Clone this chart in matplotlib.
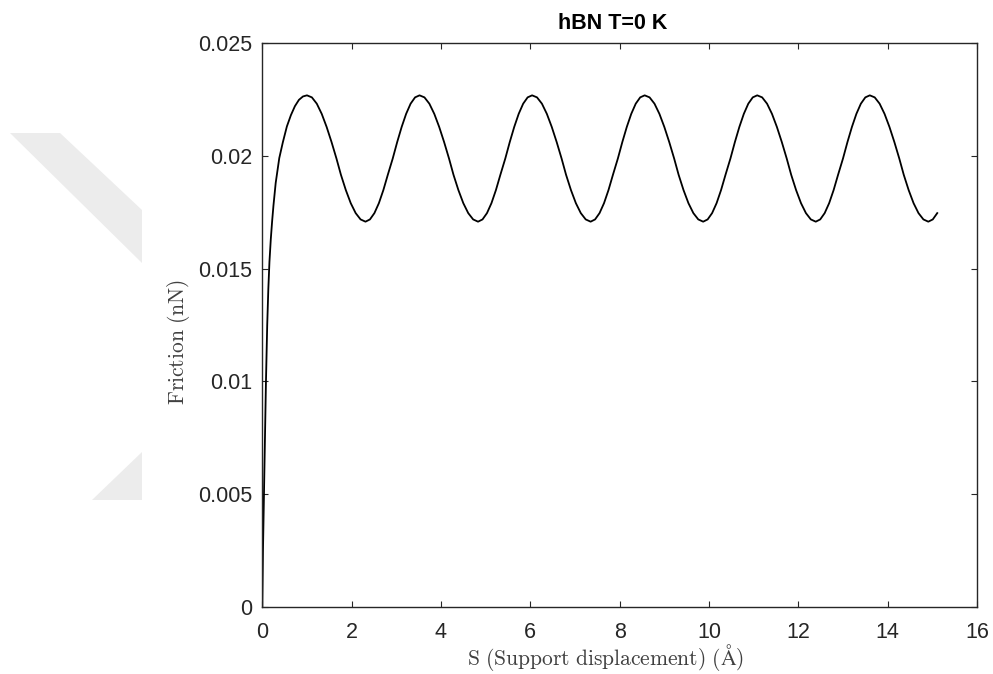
import matplotlib
matplotlib.use("Agg")
import matplotlib.pyplot as plt
from matplotlib.patches import Polygon
from matplotlib.ticker import FixedLocator, FuncFormatter

# ---- data ----
s_disp = [0.0, 0.015, 0.037, 0.06, 0.082, 0.11, 0.135, 0.16, 0.19, 0.22, 0.25, 0.30, 0.38, 0.46, 0.55, 0.64, 0.73, 0.82, 0.91,
          1.00, 1.11, 1.22, 1.33, 1.44, 1.55, 1.66, 1.76, 1.87, 1.98, 2.09, 2.20, 2.31,
          2.41, 2.51, 2.61, 2.71, 2.81, 2.92, 3.02, 3.12, 3.22, 3.32, 3.42,
          3.52, 3.63, 3.74, 3.85, 3.96, 4.07, 4.18, 4.28, 4.39, 4.50, 4.61, 4.72, 4.83,
          4.93, 5.03, 5.13, 5.23, 5.33, 5.44, 5.54, 5.64, 5.74, 5.84, 5.94,
          6.04, 6.15, 6.26, 6.37, 6.48, 6.59, 6.70, 6.80, 6.91, 7.02, 7.13, 7.24, 7.35,
          7.45, 7.55, 7.65, 7.75, 7.85, 7.96, 8.06, 8.16, 8.26, 8.36, 8.46,
          8.56, 8.67, 8.78, 8.89, 9.00, 9.11, 9.22, 9.32, 9.43, 9.54, 9.65, 9.76, 9.87,
          9.97, 10.07, 10.17, 10.27, 10.37, 10.48, 10.58, 10.68, 10.78, 10.88, 10.98,
          11.08, 11.19, 11.30, 11.41, 11.52, 11.63, 11.74, 11.84, 11.95, 12.06, 12.17, 12.28, 12.39,
          12.49, 12.59, 12.69, 12.79, 12.89, 13.00, 13.10, 13.20, 13.30, 13.40, 13.50,
          13.60, 13.71, 13.82, 13.93, 14.04, 14.15, 14.26, 14.36, 14.47, 14.58, 14.69, 14.80, 14.91,
          15.01, 15.11]

friction = [0.0, 0.0025, 0.005, 0.0075, 0.010, 0.0125, 0.0141, 0.0153, 0.0163, 0.0171, 0.0178, 0.0188, 0.0199, 0.0206, 0.0213, 0.0218, 0.0222, 0.02248, 0.02263,
            0.02268, 0.02259, 0.02231, 0.02186, 0.02128, 0.02061, 0.01988, 0.01916, 0.01848, 0.01790, 0.01746, 0.01718, 0.01708,
            0.01718, 0.01746, 0.01790, 0.01848, 0.01916, 0.01988, 0.02061, 0.02128, 0.02186, 0.02231, 0.02259,
            0.02268, 0.02259, 0.02231, 0.02186, 0.02128, 0.02061, 0.01988, 0.01916, 0.01848, 0.01790, 0.01746, 0.01718, 0.01708,
            0.01718, 0.01746, 0.01790, 0.01848, 0.01916, 0.01988, 0.02061, 0.02128, 0.02186, 0.02231, 0.02259,
            0.02268, 0.02259, 0.02231, 0.02186, 0.02128, 0.02061, 0.01988, 0.01916, 0.01848, 0.01790, 0.01746, 0.01718, 0.01708,
            0.01718, 0.01746, 0.01790, 0.01848, 0.01916, 0.01988, 0.02061, 0.02128, 0.02186, 0.02231, 0.02259,
            0.02268, 0.02259, 0.02231, 0.02186, 0.02128, 0.02061, 0.01988, 0.01916, 0.01848, 0.01790, 0.01746, 0.01718, 0.01708,
            0.01718, 0.01746, 0.01790, 0.01848, 0.01916, 0.01988, 0.02061, 0.02128, 0.02186, 0.02231, 0.02259,
            0.02268, 0.02259, 0.02231, 0.02186, 0.02128, 0.02061, 0.01988, 0.01916, 0.01848, 0.01790, 0.01746, 0.01718, 0.01708,
            0.01718, 0.01746, 0.01790, 0.01848, 0.01916, 0.01988, 0.02061, 0.02128, 0.02186, 0.02231, 0.02259,
            0.02268, 0.02259, 0.02231, 0.02186, 0.02128, 0.02061, 0.01988, 0.01916, 0.01848, 0.01790, 0.01746, 0.01718, 0.01708,
            0.01718, 0.01746]

x_ticks = [0, 2, 4, 6, 8, 10, 12, 14, 16]
y_ticks = [0, 0.005, 0.01, 0.015, 0.02, 0.025]
title_text = "hBN T=0 K"
x_label = r"$\mathrm{S\ (Support\ displacement)\ (\AA)}$"
y_label = r"$\mathrm{Friction\ (nN)}$"

# ---- figure ----
plt.rcParams["mathtext.fontset"] = "cm"
plt.rcParams["font.family"] = ["Liberation Sans", "DejaVu Sans"]

W, H = 993, 674
fig = plt.figure(figsize=(W / 100, H / 100), dpi=100)
fig.patch.set_facecolor("white")

# faint watermark on the left
wm_col = "#ececec"
def fpx(pts):
    return [(x / W, 1 - y / H) for x, y in pts]
fig.patches.append(Polygon(fpx([(10, 133), (60, 133), (142, 210), (142, 263)]),
                           closed=True, transform=fig.transFigure, facecolor=wm_col, edgecolor="none", zorder=0))
fig.patches.append(Polygon(fpx([(142, 452), (142, 500), (92, 500)]),
                           closed=True, transform=fig.transFigure, facecolor=wm_col, edgecolor="none", zorder=0))

ax = fig.add_axes([262.3 / W, 1 - 607 / H, (977 - 262.3) / W, (607 - 43) / H])
ax.plot(s_disp, friction, color="black", lw=1.3, solid_joinstyle="round")

ax.set_xlim(0, 16)
ax.set_ylim(0, 0.025)
ax.xaxis.set_major_locator(FixedLocator(x_ticks))
ax.yaxis.set_major_locator(FixedLocator(y_ticks))
ax.yaxis.set_major_formatter(FuncFormatter(lambda v, p: "%g" % v))
ax.xaxis.set_major_formatter(FuncFormatter(lambda v, p: "%g" % v))

axcol = "#262626"
for sp in ax.spines.values():
    sp.set_color(axcol)
    sp.set_linewidth(1.0)
ax.tick_params(direction="in", length=4.5, width=0.8, colors=axcol, labelsize=15.5,
               top=True, right=True, labelcolor=axcol)
ax.tick_params(axis="y", pad=7)
ax.tick_params(axis="x", pad=11)

fig.text((262.3 + 0.48 * (977 - 262.3)) / W, 1 - 665 / H, x_label, fontsize=15.5,
         color="#404040", ha="center", va="baseline")
ax.set_ylabel(y_label, fontsize=15.5, color="#404040")
ax.yaxis.set_label_coords(-0.099, 0.469)

ax.text(0.49, 1.016, title_text, transform=ax.transAxes, ha="center", va="bottom",
        fontsize=15.5, fontweight="bold", color="black")

fig.savefig("out.png", dpi=100, facecolor="white")
